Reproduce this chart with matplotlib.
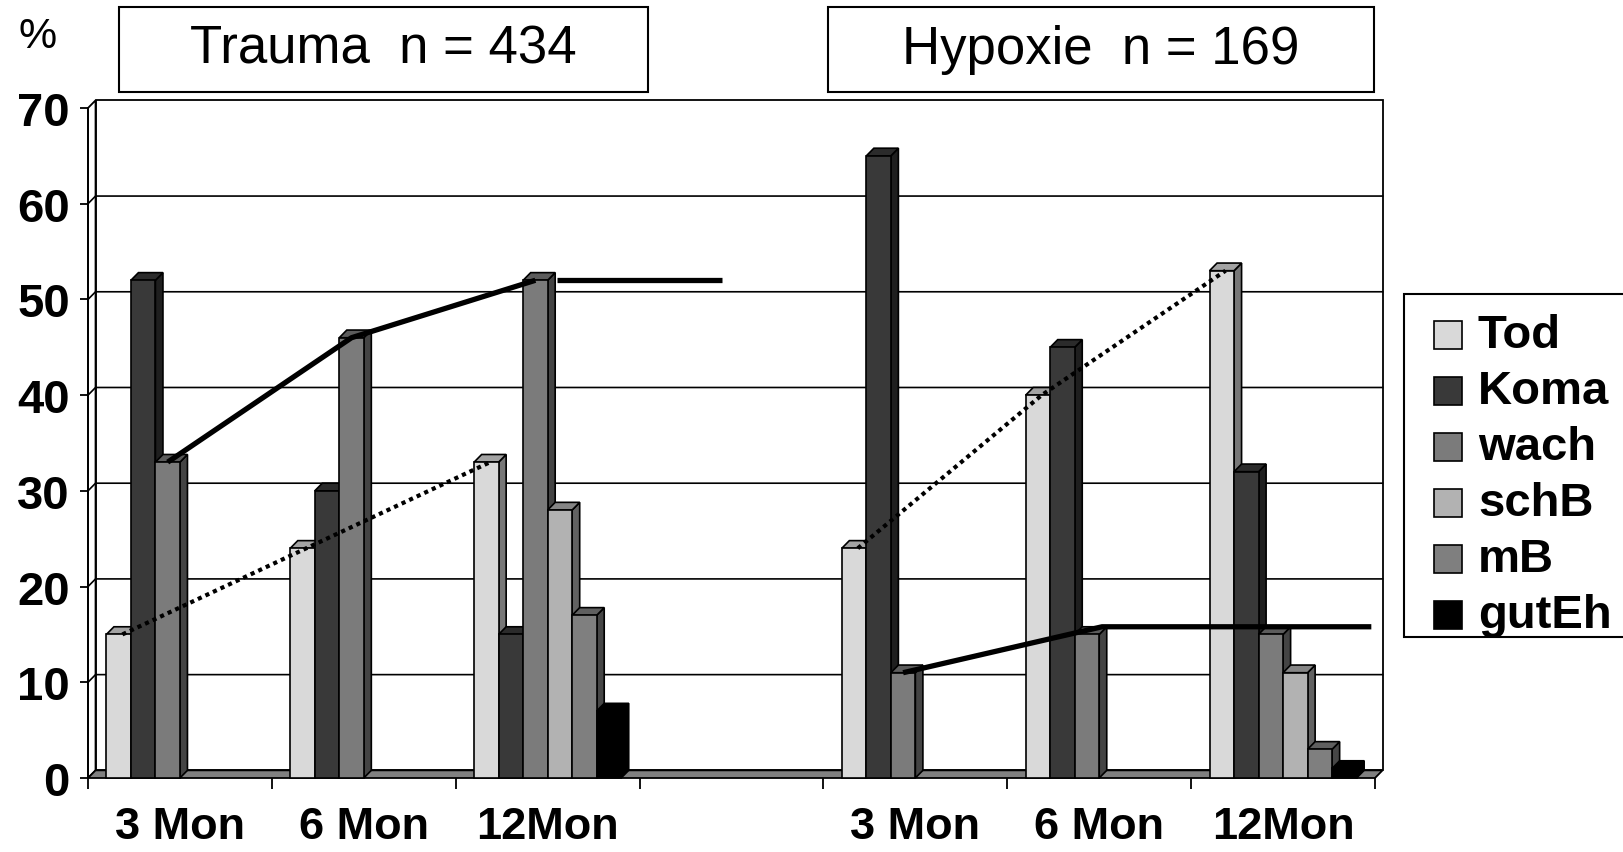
import matplotlib
matplotlib.use("Agg")
import matplotlib.pyplot as plt
from matplotlib.patches import Polygon, Rectangle
import numpy as np

plt.rcParams['font.family'] = ['Liberation Sans', 'DejaVu Sans']

# outcome shares (%) per follow-up, Trauma | gap | Hypoxie
categories = ["3 Mon", "6 Mon", "12Mon", "", "3 Mon", "6 Mon", "12Mon"]
series = ["Tod", "Koma", "wach", "schB", "mB", "gutEh"]
tod = [15, 24, 33, 0, 24, 40, 53]
koma = [52, 30, 15, 0, 65, 45, 32]
wach = [33, 46, 52, 0, 11, 15, 15]
schb = [0, 0, 28, 0, 0, 0, 11]
mb = [0, 0, 17, 0, 0, 0, 3]
guteh = [0, 0, 7, 0, 0, 0, 1]
groups = ["Trauma  n = 434", "Hypoxie  n = 169"]

values = [tod, koma, wach, schb, mb, guteh]
colors = ["#d9d9d9", "#393939", "#7b7b7b", "#b2b2b2", "#7f7f7f", "#000000"]

W, H = 1623, 853
fig = plt.figure(figsize=(W / 100, H / 100), dpi=100)
ax = fig.add_axes([88 / W, 1 - 779 / H, (1375 - 88) / W, (779 - 109) / H])
ax.set_xlim(-0.5, 6.5)
ax.set_ylim(0, 70)
for s in ax.spines.values():
    s.set_visible(False)

dx, dy = 0.041, 0.8          # depth offset of the 3D look
bw = 0.8 / len(series)


def shade(c, f):
    r, g, b = matplotlib.colors.to_rgb(c)
    return (r * f, g * f, b * f)


# back wall, left wall and floor
ax.add_patch(Polygon([(-0.5 + dx, dy), (6.5 + dx, dy), (6.5 + dx, 70 + dy), (-0.5 + dx, 70 + dy)],
                     closed=True, fc="white", ec="black", lw=1.3, clip_on=False, zorder=0))
ax.add_patch(Polygon([(-0.5, 0), (-0.5 + dx, dy), (-0.5 + dx, 70 + dy), (-0.5, 70)],
                     closed=True, fc="white", ec="black", lw=1.3, clip_on=False, zorder=0))
for v in range(10, 70, 10):
    ax.plot([-0.5, -0.5 + dx, 6.5 + dx], [v, v + dy, v + dy], color="black", lw=1.2,
            clip_on=False, zorder=0.5)
ax.add_patch(Polygon([(-0.5, 0), (6.5, 0), (6.5 + dx, dy), (-0.5 + dx, dy)],
                     closed=True, fc="#808080", ec="black", lw=1.3, clip_on=False, zorder=1))

# bars with front, side and top faces
for i in range(len(categories)):
    for k, (vals, c) in enumerate(zip(values, colors)):
        v = vals[i]
        if v <= 0:
            continue
        x0 = i - 0.4 + k * bw
        z = 2 + k * 0.01 + i
        ax.add_patch(Polygon([(x0 + bw, 0), (x0 + bw + dx, dy), (x0 + bw + dx, v + dy), (x0 + bw, v)],
                             closed=True, fc=shade(c, 0.55), ec="black", lw=1.2, clip_on=False, zorder=z))
        ax.add_patch(Polygon([(x0, v), (x0 + dx, v + dy), (x0 + bw + dx, v + dy), (x0 + bw, v)],
                             closed=True, fc=shade(c, 0.75), ec="black", lw=1.2, clip_on=False, zorder=z))
        ax.add_patch(Rectangle((x0, 0), bw, v, fc=c, ec="black", lw=1.2, clip_on=False, zorder=z))

# trend lines over Tod (dotted) and wach (solid)
tod_off = -0.4 + 0.5 * bw + dx * 0.5
wach_off = -0.4 + 2.5 * bw
for idx in ([0, 1, 2], [4, 5, 6]):
    ax.plot([i + tod_off for i in idx], [tod[i] for i in idx], color="black", lw=3.0,
            linestyle=(0, (1, 1)), clip_on=False, zorder=20)
ax.plot([i + wach_off for i in (0, 1, 2)], [wach[i] for i in (0, 1, 2)], color="black",
        lw=3.8, solid_capstyle="butt", clip_on=False, zorder=20)
ax.plot([2.05, 2.95], [wach[2], wach[2]], color="black", lw=3.8, solid_capstyle="butt",
        clip_on=False, zorder=20)
ax.plot([4 + wach_off, 5 + wach_off + 2 * dx, 6.48], [wach[4], wach[5] + dy, wach[5] + dy],
        color="black", lw=3.8, solid_capstyle="butt", clip_on=False, zorder=20)

# axes
ax.plot([-0.5, -0.5], [0, 70], color="black", lw=1.3, clip_on=False, zorder=1.5)
ax.set_yticks(range(0, 71, 10))
ax.set_yticklabels([str(v) for v in range(0, 71, 10)], fontsize=34, fontweight="bold")
ax.tick_params(axis="y", direction="out", length=6, width=1.3, pad=7)
ax.set_xticks(np.arange(-0.5, 6.6, 1.0))
ax.set_xticklabels([])
ax.tick_params(axis="x", which="major", direction="out", length=8, width=1.3)
ax.set_xticks(range(len(categories)), minor=True)
ax.set_xticklabels(categories, minor=True, fontsize=32.5, fontweight="bold")
ax.tick_params(axis="x", which="minor", length=0, pad=20)


def px(x, y):
    return (x / W, 1 - y / H)


# group title boxes
for (x1, x2), label in zip([(119, 648), (828, 1374)], groups):
    fig.add_artist(Rectangle(px(x1, 93), (x2 - x1) / W, 85 / H, transform=fig.transFigure,
                             fc="white", ec="black", lw=1.5))
    fig.text(*px((x1 + x2) / 2, 50), label, fontsize=38, ha="center", va="center")
fig.text(*px(38, 37), "%", fontsize=31, ha="center", va="center")

# legend
fig.add_artist(Rectangle(px(1404, 638), 300 / W, 343 / H, transform=fig.transFigure,
                         fc="white", ec="black", lw=1.5))
for j, (name, c) in enumerate(zip(series, colors)):
    yc = 336 + j * 56
    fig.add_artist(Rectangle(px(1434, yc + 14), 28 / W, 28 / H, transform=fig.transFigure,
                             fc=c, ec="black", lw=1.2))
    fig.text(*px(1478, yc), name, fontsize=34, fontweight="bold", ha="left", va="center")

fig.savefig("out.png", dpi=100)
